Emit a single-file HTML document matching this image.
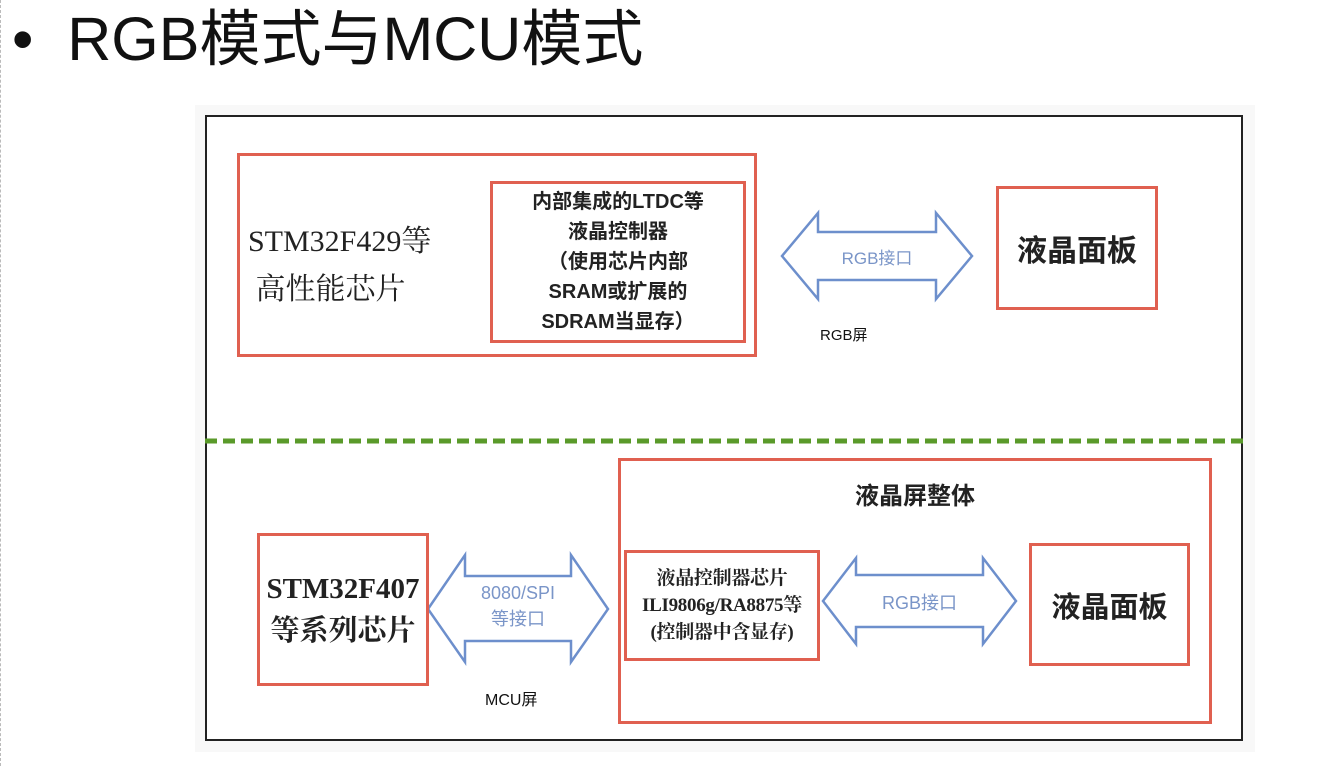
<!DOCTYPE html>
<html><head><meta charset="utf-8"><style>
body{margin:0;width:1338px;height:766px;background:#fff;position:relative;overflow:hidden;font-family:"Liberation Sans","Noto Sans CJK SC",sans-serif}
.a{position:absolute}
.r{position:absolute;border:3px solid #e06050;box-sizing:border-box}
.c{display:flex;align-items:center;justify-content:center;text-align:center}
.serif{font-family:"Liberation Serif","Noto Serif CJK SC",serif}
</style></head><body>
<div class="a" style="left:0;top:0;width:1px;height:766px;border-left:1px dashed #bbb"></div>
<div class="a" style="left:12px;top:2px;font-size:61px;line-height:74px;color:#111;white-space:nowrap">•&nbsp;&nbsp;RGB模式与MCU模式</div>
<div class="a" style="left:195px;top:105px;width:1060px;height:647px;background:#f8f8f8"></div>
<div class="a" style="left:205px;top:115px;width:1038px;height:626px;border:2px solid #222;box-sizing:border-box;background:#fff"></div>

<div class="r" style="left:237px;top:153px;width:520px;height:204px"></div>
<div class="a serif" style="left:248px;top:218px;font-size:30px;line-height:48px;color:#222;white-space:nowrap">STM32F429等<br>&nbsp;高性能芯片</div>
<div class="r c" style="left:490px;top:181px;width:256px;height:162px;font-size:20px;font-weight:bold;line-height:30px;color:#222">内部集成的LTDC等<br>液晶控制器<br>（使用芯片内部<br>SRAM或扩展的<br>SDRAM当显存）</div>

<svg class="a" style="left:0;top:0" width="1338" height="766">
<polygon points="782,256 818,213 818,232 936,232 936,213 972,256 936,299 936,280 818,280 818,299" fill="#fff" stroke="#6d8fcc" stroke-width="2.5"/>
<line x1="205" y1="441" x2="1243" y2="441" stroke="#5a9a2a" stroke-width="5" stroke-dasharray="12,6"/>
<polygon points="428,609 465,555 465,576 571,576 571,555 608,609 571,662 571,641 465,641 465,662" fill="#fff" stroke="#6d8fcc" stroke-width="2.5"/>
<polygon points="823,601 856,558 856,575 983,575 983,558 1016,601 983,644 983,627 856,627 856,644" fill="#fff" stroke="#6d8fcc" stroke-width="2.5"/>
</svg>
<div class="a" style="left:818px;top:244px;width:118px;text-align:center;font-size:17px;color:#7a95c8">RGB接口</div>
<div class="r c" style="left:996px;top:186px;width:162px;height:124px;font-size:30px;font-weight:bold;color:#222">液晶面板</div>
<div class="a" style="left:820px;top:324px;font-size:15px;color:#111">RGB屏</div>

<div class="r" style="left:618px;top:458px;width:594px;height:266px"></div>
<div class="a" style="left:618px;top:476px;width:594px;text-align:center;font-size:24px;font-weight:bold;color:#222">液晶屏整体</div>
<div class="r c serif" style="left:257px;top:533px;width:172px;height:153px;font-size:29px;font-weight:bold;line-height:42px;color:#222;white-space:nowrap">STM32F407<br>等系列芯片</div>
<div class="a" style="left:465px;top:580px;width:106px;text-align:center;font-size:18px;line-height:26px;color:#7a95c8">8080/SPI<br>等接口</div>
<div class="r c serif" style="left:624px;top:550px;width:196px;height:111px;font-size:19px;font-weight:bold;line-height:27px;color:#222;white-space:nowrap;letter-spacing:-0.3px">液晶控制器芯片<br>ILI9806g/RA8875等<br>(控制器中含显存)</div>
<div class="a" style="left:856px;top:589px;width:127px;text-align:center;font-size:18px;color:#7a95c8">RGB接口</div>
<div class="r c" style="left:1029px;top:543px;width:161px;height:123px;font-size:29px;font-weight:bold;color:#222">液晶面板</div>
<div class="a" style="left:485px;top:686px;font-size:16px;color:#111">MCU屏</div>
</body></html>
